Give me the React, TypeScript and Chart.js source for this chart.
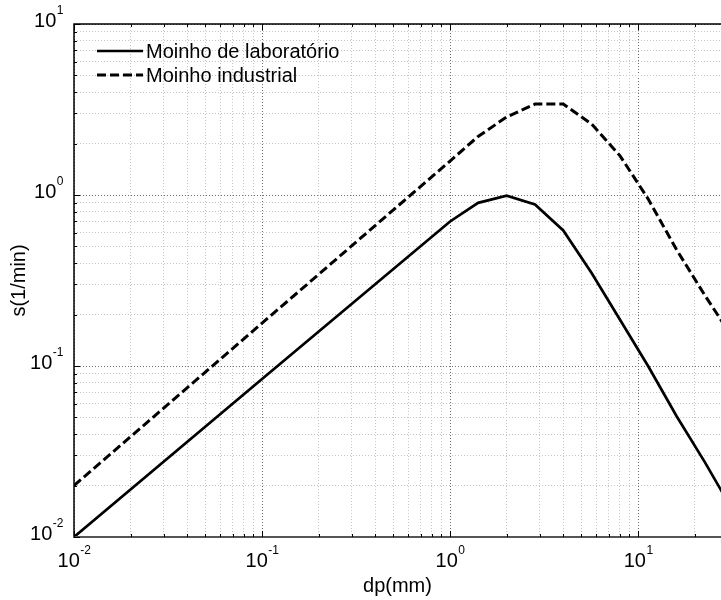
import React, { useEffect, useRef } from 'react';
import { Chart, registerables } from 'chart.js';

Chart.register(...registerables);

// ---- data ----
const SERIES_LABELS = ['Moinho de laboratório', 'Moinho industrial'];
const LAB_X = [0.01, 0.1, 1, 1.41, 2, 2.83, 4, 5.66, 8, 11.3, 16, 22.6, 32];
const LAB_Y = [0.01, 0.084, 0.7, 0.9, 0.99, 0.88, 0.62, 0.35, 0.187, 0.1, 0.051, 0.0275, 0.0142];
const IND_X = [0.01, 0.1, 1, 1.41, 2, 2.83, 4, 5.66, 8, 11.3, 16, 22.6, 32];
const IND_Y = [0.02, 0.178, 1.58, 2.2, 2.86, 3.4, 3.4, 2.6, 1.7, 0.95, 0.48, 0.26, 0.145];

const X_MIN = 0.01;
const X_MAX = 27.6;
const Y_MIN = 0.01;
const Y_MAX = 10;
const X_MAJOR = [0.01, 0.1, 1, 10];
const X_EXP = ['-2', '-1', '0', '1'];
const Y_MAJOR = [0.01, 0.1, 1, 10];
const Y_EXP = ['-2', '-1', '0', '1'];
const TICK_BASE = '10';
const X_TITLE = 'dp(mm)';
const Y_TITLE = 's(1/min)';

const FONT = '"Liberation Sans", Arial, Helvetica, sans-serif';

function gridValues(min: number, max: number): number[] {
  const out: number[] = [];
  const d0 = Math.floor(Math.log10(min) + 1e-9);
  const d1 = Math.ceil(Math.log10(max) - 1e-9);
  for (let d = d0; d <= d1; d++) {
    for (let m = 1; m <= 9; m++) {
      const v = m * Math.pow(10, d);
      if (v >= min * (1 - 1e-9) && v <= max * (1 + 1e-9)) out.push(v);
    }
  }
  return out;
}
const isMajor = (v: number) => Math.abs(Math.log10(v) - Math.round(Math.log10(v))) < 1e-6;

const decorPlugin = {
  id: 'decor',
  afterDraw(chart: any) {
    const { ctx, chartArea: a, scales } = chart;
    const xs = scales.x;
    const ys = scales.y;
    ctx.save();
    // frame
    ctx.setLineDash([]);
    ctx.strokeStyle = '#000';
    ctx.lineWidth = 1.5;
    ctx.beginPath();
    ctx.moveTo(a.right + 2, a.top);
    ctx.lineTo(a.left, a.top);
    ctx.lineTo(a.left, a.bottom);
    ctx.stroke();
    ctx.strokeStyle = '#555';
    ctx.lineWidth = 2;
    ctx.beginPath();
    ctx.moveTo(a.left - 1, a.bottom);
    ctx.lineTo(a.right + 2, a.bottom);
    ctx.stroke();
    // inner tick marks
    ctx.strokeStyle = '#000';
    ctx.lineWidth = 1;
    for (const v of gridValues(X_MIN, X_MAX)) {
      const px = Math.round(xs.getPixelForValue(v)) + 0.5;
      const len = isMajor(v) ? 6 : 3;
      ctx.beginPath();
      ctx.moveTo(px, a.bottom);
      ctx.lineTo(px, a.bottom - len);
      ctx.moveTo(px, a.top);
      ctx.lineTo(px, a.top + len);
      ctx.stroke();
    }
    for (const v of gridValues(Y_MIN, Y_MAX)) {
      const py = Math.round(ys.getPixelForValue(v)) + 0.5;
      const len = isMajor(v) ? 6 : 3;
      ctx.beginPath();
      ctx.moveTo(a.left, py);
      ctx.lineTo(a.left + len, py);
      ctx.stroke();
    }
    // tick labels with superscript exponents
    ctx.fillStyle = '#000';
    ctx.textBaseline = 'middle';
    ctx.textAlign = 'left';
    const big = `20px ${FONT}`;
    const small = `12px ${FONT}`;
    const measure = (exp: string) => {
      ctx.font = big;
      const w1 = ctx.measureText(TICK_BASE).width;
      ctx.font = small;
      const w2 = ctx.measureText(exp).width;
      return [w1, w2];
    };
    X_MAJOR.forEach((v, i) => {
      const px = xs.getPixelForValue(v);
      const [w1, w2] = measure(X_EXP[i]);
      const start = px - (w1 + w2) / 2;
      ctx.font = big;
      ctx.fillText(TICK_BASE, start, a.bottom + 24);
      ctx.font = small;
      ctx.fillText(X_EXP[i], start + w1 + 0.5, a.bottom + 14);
    });
    Y_MAJOR.forEach((v, i) => {
      const py = ys.getPixelForValue(v);
      const [w1, w2] = measure(Y_EXP[i]);
      const start = a.left - 11 - (w1 + w2);
      ctx.font = big;
      ctx.fillText(TICK_BASE, start, py - 3);
      ctx.font = small;
      ctx.fillText(Y_EXP[i], start + w1 + 0.5, py - 13);
    });
    // legend
    chart.data.datasets.forEach((ds: any, i: number) => {
      const ly = a.top + 27 + i * 24;
      ctx.strokeStyle = ds.borderColor;
      ctx.lineWidth = ds.borderWidth;
      ctx.setLineDash(ds.borderDash || []);
      ctx.beginPath();
      ctx.moveTo(a.left + 23, ly);
      ctx.lineTo(a.left + 69, ly);
      ctx.stroke();
      ctx.setLineDash([]);
      ctx.font = `20px ${FONT}`;
      ctx.fillStyle = '#000';
      ctx.textBaseline = 'middle';
      ctx.fillText(ds.label, a.left + 72, ly + 1);
    });
    ctx.restore();
  },
};

export default function App() {
  const ref = useRef<HTMLCanvasElement | null>(null);
  useEffect(() => {
    document.body.style.margin = '0';
    if (!ref.current) return;
    const xGrid = gridValues(X_MIN, X_MAX);
    const yGrid = gridValues(Y_MIN, Y_MAX);
    const gridColor = (c: any) => (c.tick && isMajor(c.tick.value) ? '#707070' : '#c4c4c4');
    const chart = new Chart(ref.current, {
      type: 'line',
      data: {
        datasets: [
          {
            label: SERIES_LABELS[0],
            data: LAB_X.map((v, i) => ({ x: v, y: LAB_Y[i] })),
            borderColor: '#000',
            borderWidth: 2.7,
            pointRadius: 0,
            tension: 0,
            fill: false,
            clip: 0,
          },
          {
            label: SERIES_LABELS[1],
            data: IND_X.map((v, i) => ({ x: v, y: IND_Y[i] })),
            borderColor: '#000',
            borderWidth: 3,
            borderDash: [9, 4],
            pointRadius: 0,
            tension: 0,
            fill: false,
            clip: 0,
          },
        ],
      },
      options: {
        animation: false,
        responsive: true,
        maintainAspectRatio: false,
        devicePixelRatio: 1,
        events: [],
        layout: { padding: { top: 24, right: 0, bottom: 0, left: 0 } },
        plugins: { legend: { display: false }, tooltip: { enabled: false } },
        scales: {
          x: {
            type: 'logarithmic',
            min: X_MIN,
            max: X_MAX,
            afterBuildTicks: (s: any) => {
              s.ticks = xGrid.map((v) => ({ value: v }));
            },
            afterFit: (s: any) => {
              s.height = 63;
            },
            ticks: { display: false },
            grid: { color: gridColor, lineWidth: 1, drawTicks: false },
            border: { display: false, dash: [1, 2] },
            title: {
              display: true,
              text: X_TITLE,
              color: '#000',
              font: { family: FONT, size: 20 },
              padding: { top: 0, bottom: 2 },
            },
          },
          y: {
            type: 'logarithmic',
            min: Y_MIN,
            max: Y_MAX,
            afterBuildTicks: (s: any) => {
              s.ticks = yGrid.map((v) => ({ value: v }));
            },
            afterFit: (s: any) => {
              s.width = 74;
            },
            ticks: { display: false },
            grid: { color: gridColor, lineWidth: 1, drawTicks: false },
            border: { display: false, dash: [1, 2] },
            title: {
              display: true,
              text: Y_TITLE,
              color: '#000',
              font: { family: FONT, size: 20 },
              padding: { top: 7, bottom: 0 },
            },
          },
        },
      },
      plugins: [decorPlugin],
    });
    return () => chart.destroy();
  }, []);
  return (
    <div style={{ position: 'absolute', left: 0, top: 0, width: 721, height: 600 }}>
      <canvas ref={ref} />
    </div>
  );
}
